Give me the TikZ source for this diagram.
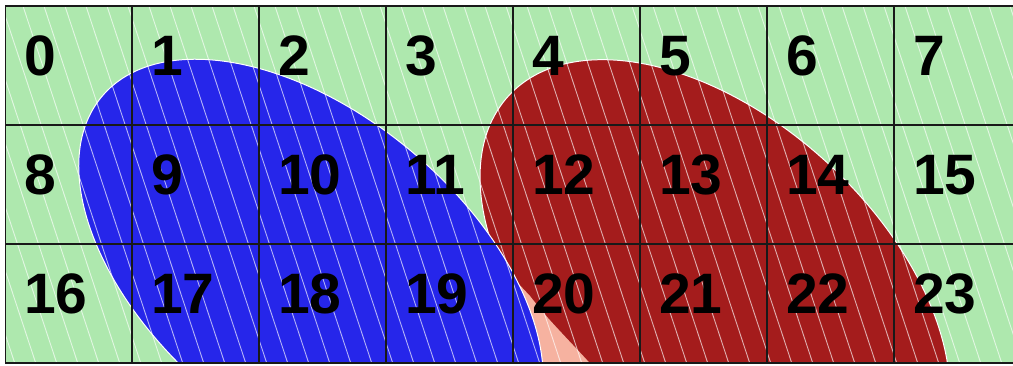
\documentclass[tikz,border=0pt]{standalone}
\usepackage{fontspec}
\setmainfont{Liberation Sans}
\definecolor{fieldGreen}{RGB}{174,232,174}
\definecolor{blobBlue}{RGB}{38,38,234}
\definecolor{blobRed}{RGB}{164,28,28}
\definecolor{blobPink}{RGB}{246,178,160}
\definecolor{gridInk}{RGB}{25,25,25}
\begin{document}
\begin{tikzpicture}[
    x=1pt, y=-1pt,
    blob/.style={draw=white, line width=1pt},
    hatch/.style={draw=white, opacity=0.65, line width=0.9pt},
    gridline/.style={draw=gridInk, line width=1.3pt},
    cellnum/.style={
      anchor=base west,
      inner sep=0pt,
      font=\fontsize{57}{60}\selectfont\bfseries,
      text=black
    }
  ]
    \useasboundingbox (0,0) rectangle (1013,366);
    \fill[white] (0,0) rectangle (1013,366);

    \begin{scope}
      \clip (5,6) rectangle (1013,363);
      \fill[fieldGreen] (5,6) rectangle (1013,363);

      % the two blobs, red first so blue lies over it
      \path[blob, fill=blobRed, rotate around={-42.5:(715,285)}]
        (715,285) ellipse [x radius=280pt, y radius=166pt];
      \fill[blobPink] (515,280) -- (530,296) .. controls (537,305) and (542,311) .. (548,318)
        .. controls (566,338) and (580,352) .. (596,370) -- (520,370) -- cycle;
      \path[blob, fill=blobBlue, rotate around={-40:(311,272)}]
        (311,272) ellipse [x radius=273pt, y radius=157pt];

      % diagonal hatching over everything
      \foreach \hx in {-126,-105,...,1013}
        \draw[hatch] (\hx,0) -- ++(122,370);

      % cell grid
      \foreach \gx in {0,...,8}
        \draw[gridline] ({5+127*\gx},6) -- ({5+127*\gx},363);
      \foreach \gy in {0,...,3}
        \draw[gridline] (5,{6+119*\gy}) -- (1021,{6+119*\gy});
    \end{scope}

    % cell numbers
    \foreach \row in {0,1,2}
      \foreach \col in {0,...,7} {
        \pgfmathtruncatemacro{\num}{8*\row+\col}
        \node[cellnum] (c\num) at ({5+127*\col+19},{6+119*\row+70}) {\num};
      }
  \end{tikzpicture}
\end{document}
